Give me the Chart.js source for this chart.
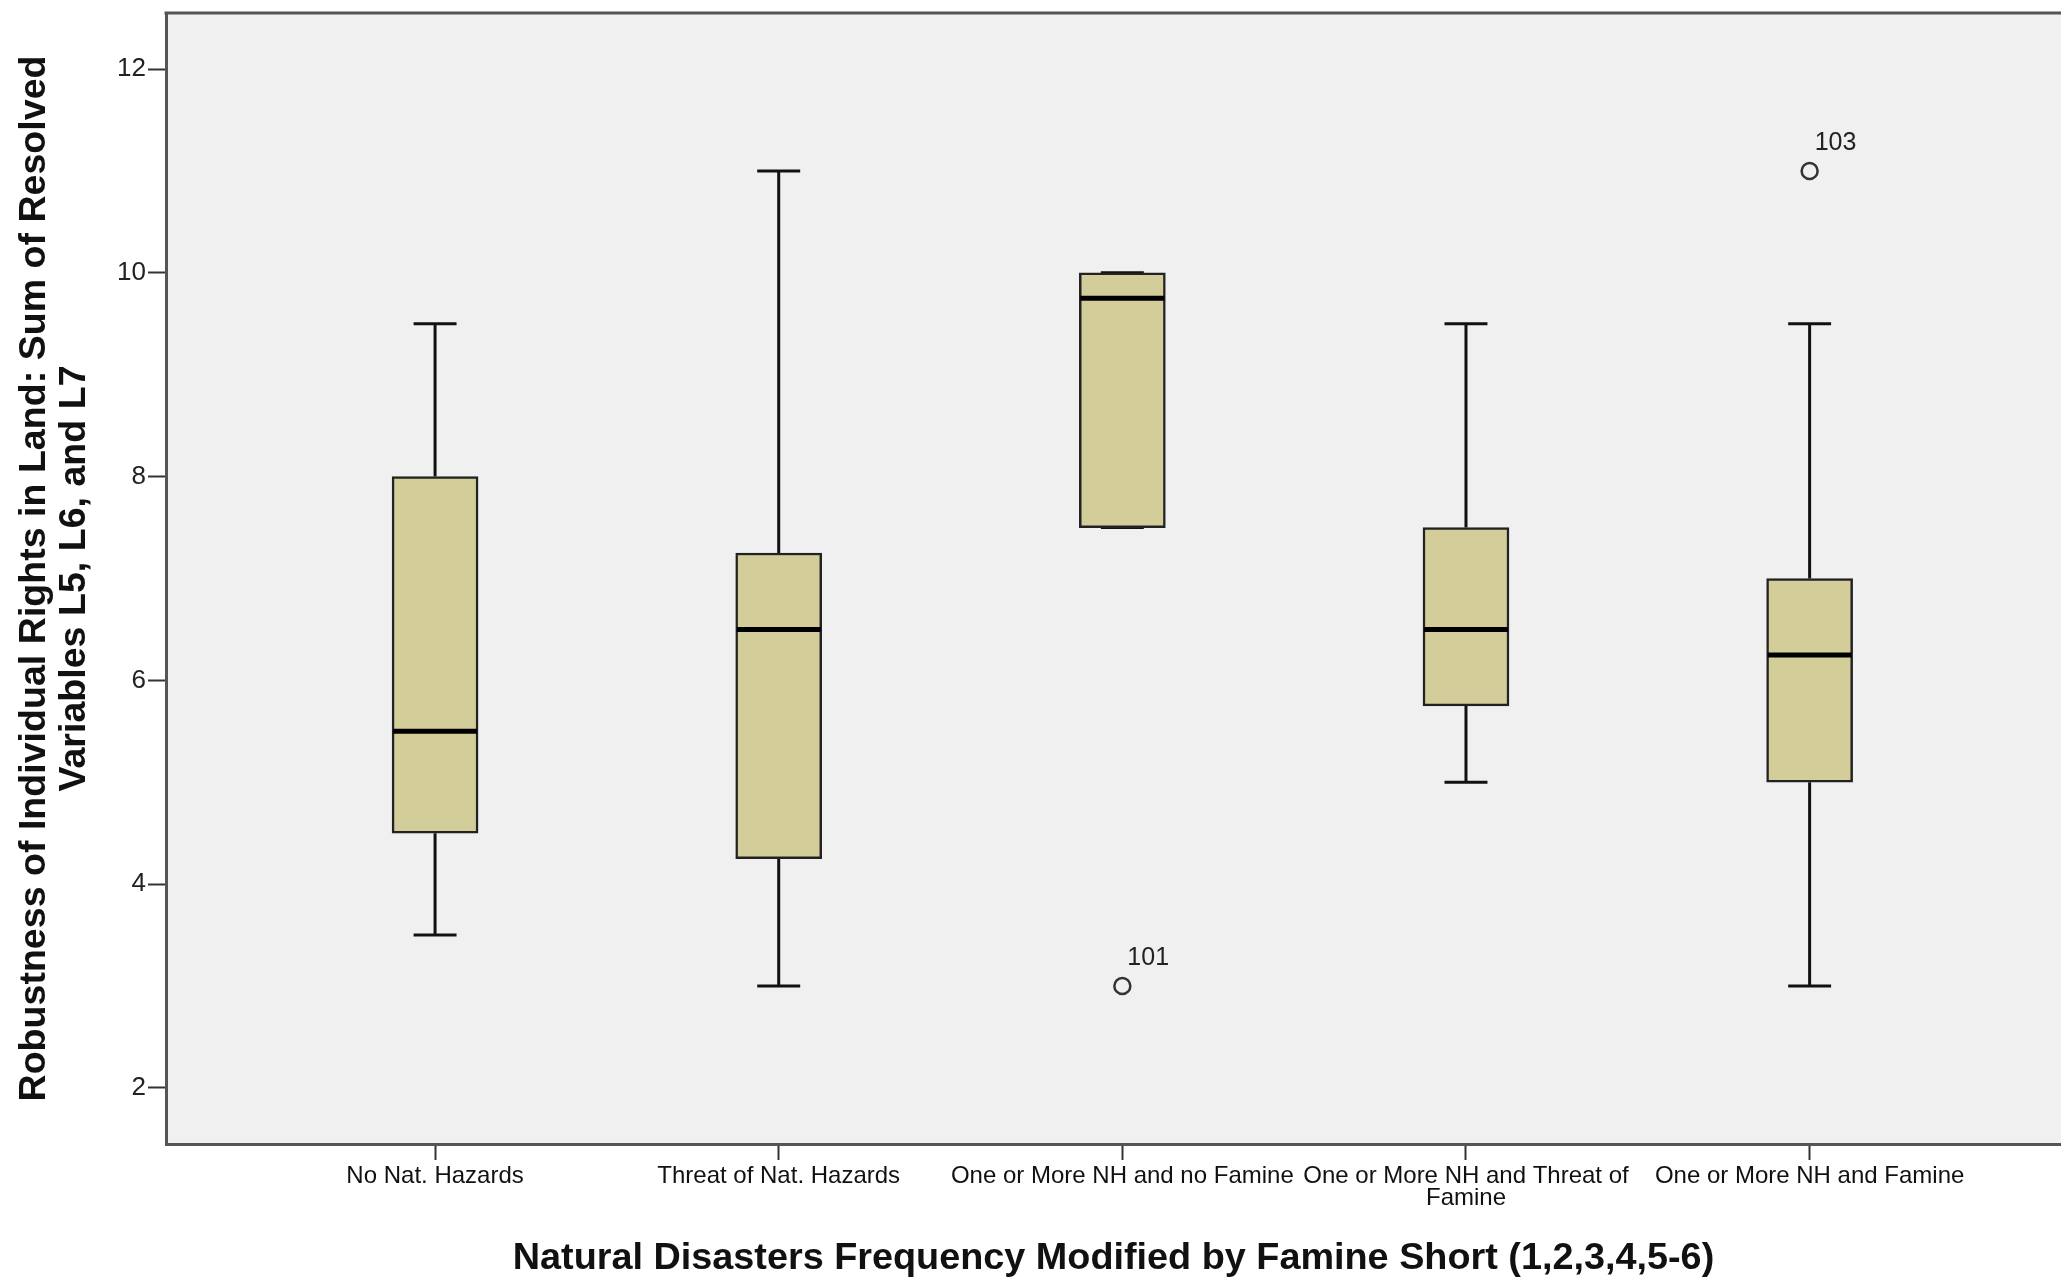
<!DOCTYPE html>
<html>
<head>
<meta charset="utf-8">
<script src="https://cdn.jsdelivr.net/npm/chart.js@4.4.1/dist/chart.umd.min.js"></script>
<style>
  html, body { margin: 0; padding: 0; background: #ffffff; overflow: hidden; }
  canvas { display: block; }
</style>
</head>
<body>
<canvas id="chart" width="2061" height="1282"></canvas>
<script>
// Groups along the x axis
const categories = [
  'No Nat. Hazards',
  'Threat of Nat. Hazards',
  'One or More NH and no Famine',
  ['One or More NH and Threat of', 'Famine'],
  'One or More NH and Famine'
];
const groupIndex = [0, 1, 2, 3, 4];

// Five-number summaries per group
const whiskerLow  = [3.5, 3,    7.5,  5,    3];
const quartile1   = [4.5, 4.25, 7.5,  5.75, 5];
const medianValue = [5.5, 6.5,  9.75, 6.5,  6.25];
const quartile3   = [8,   7.25, 10,   7.5,  7];
const whiskerHigh = [9.5, 11,   10,   9.5,  9.5];

// Outlying cases
const outlierGroup = [2, 4];
const outlierValue = [3, 11];
const outlierCase  = ['101', '103'];

const yTickValues = [2, 4, 6, 8, 10, 12];

const FONT = "'Liberation Sans', Arial, sans-serif";
const BOX_HALF = 0.125;   // half box width in group units
const CAP_HALF = 0.0625;  // half whisker-cap width in group units

const boxParts = {
  id: 'boxParts',
  beforeDraw(chart) {
    const { ctx, chartArea: a } = chart;
    ctx.save();
    ctx.fillStyle = '#F0F0F0';
    ctx.fillRect(a.left, a.top, a.right - a.left, a.bottom - a.top);
    ctx.restore();
  },
  beforeDatasetsDraw(chart) {
    const { ctx } = chart;
    const xs = chart.scales.x, ys = chart.scales.y;
    ctx.save();
    ctx.strokeStyle = '#111';
    ctx.lineWidth = 3;
    ctx.lineCap = 'butt';
    groupIndex.forEach((g, i) => {
      const x = xs.getPixelForValue(g);
      const half = xs.getPixelForValue(g + CAP_HALF) - x;
      const yLo = ys.getPixelForValue(whiskerLow[i]);
      const yHi = ys.getPixelForValue(whiskerHigh[i]);
      const yQ1 = ys.getPixelForValue(quartile1[i]);
      const yQ3 = ys.getPixelForValue(quartile3[i]);
      ctx.beginPath();
      ctx.moveTo(x, yHi); ctx.lineTo(x, yQ3);
      ctx.moveTo(x, yQ1); ctx.lineTo(x, yLo);
      ctx.moveTo(x - half, yHi); ctx.lineTo(x + half, yHi);
      ctx.moveTo(x - half, yLo); ctx.lineTo(x + half, yLo);
      ctx.stroke();
    });
    ctx.restore();
  },
  afterDatasetsDraw(chart) {
    const { ctx, chartArea: a } = chart;
    const xs = chart.scales.x, ys = chart.scales.y;
    ctx.save();
    // medians
    ctx.strokeStyle = '#000';
    ctx.lineWidth = 5;
    groupIndex.forEach((g, i) => {
      const x0 = xs.getPixelForValue(g - BOX_HALF);
      const x1 = xs.getPixelForValue(g + BOX_HALF);
      const y = ys.getPixelForValue(medianValue[i]);
      ctx.beginPath(); ctx.moveTo(x0 + 1, y); ctx.lineTo(x1 - 1, y); ctx.stroke();
    });
    // case labels beside outliers
    ctx.fillStyle = '#222';
    ctx.font = '25px ' + FONT;
    ctx.textBaseline = 'alphabetic';
    ctx.textAlign = 'left';
    outlierGroup.forEach((g, i) => {
      const x = xs.getPixelForValue(g);
      const y = ys.getPixelForValue(outlierValue[i]);
      ctx.fillText(outlierCase[i], x + 5, y - 21);
    });
    // frame top edge
    ctx.strokeStyle = '#555';
    ctx.lineWidth = 3;
    ctx.beginPath(); ctx.moveTo(a.left - 1.5, a.top); ctx.lineTo(a.right, a.top); ctx.stroke();
    ctx.restore();
  }
};

new Chart(document.getElementById('chart'), {
  type: 'bar',
  data: {
    datasets: [
      {
        type: 'bar',
        data: groupIndex.map((g, i) => ({ x: g, y: [quartile1[i], quartile3[i]] })),
        backgroundColor: '#D3CE99',
        borderColor: '#222',
        borderWidth: 2.5,
        borderSkipped: false,
        barThickness: 86
      },
      {
        type: 'scatter',
        data: outlierGroup.map((g, i) => ({ x: g, y: outlierValue[i] })),
        pointStyle: 'circle',
        pointRadius: 8,
        borderWidth: 2.5,
        borderColor: '#333',
        backgroundColor: 'rgba(0,0,0,0)'
      }
    ]
  },
  options: {
    responsive: false,
    animation: false,
    events: [],
    layout: { autoPadding: false, padding: { top: 13, left: 0, right: 0, bottom: 0 } },
    plugins: { legend: { display: false }, tooltip: { enabled: false } },
    scales: {
      x: {
        type: 'linear',
        offset: false,
        min: -0.783,
        max: 4.7315,
        afterBuildTicks(scale) { scale.ticks = groupIndex.map(v => ({ value: v })); },
        afterFit(scale) {
          scale.height = 138;
          scale.paddingLeft = 0;
          scale.paddingRight = 0;
        },
        grid: { offset: false, drawOnChartArea: false, tickLength: 16, tickColor: '#333', tickWidth: 2 },
        border: { display: true, color: '#555', width: 3 },
        ticks: {
          autoSkip: false,
          maxRotation: 0,
          minRotation: 0,
          padding: 5,
          color: '#111',
          font: { family: FONT, size: 24, lineHeight: 0.92 },
          callback: (value, index) => categories[index]
        },
        title: {
          display: true,
          text: 'Natural Disasters Frequency Modified by Famine Short (1,2,3,4,5-6)',
          color: '#111',
          font: { family: FONT, size: 37.8, weight: 'bold', lineHeight: 1.05 },
          padding: { top: 0, bottom: 4 }
        }
      },
      y: {
        type: 'linear',
        min: 1.45,
        max: 12.55,
        afterBuildTicks(scale) { scale.ticks = yTickValues.map(v => ({ value: v })); },
        afterFit(scale) {
          scale.width = 166;
          scale.paddingTop = 0;
          scale.paddingBottom = 0;
        },
        grid: { drawOnChartArea: false, tickLength: 18, tickColor: '#333', tickWidth: 2 },
        border: { display: true, color: '#555', width: 3 },
        ticks: {
          padding: 2,
          color: '#222',
          font: { family: FONT, size: 26 }
        },
        title: {
          display: true,
          text: ['Robustness of Individual Rights in Land: Sum of Resolved', 'Variables L5, L6, and L7'],
          color: '#111',
          font: { family: FONT, size: 37.6, weight: 'bold', lineHeight: 1.05 },
          padding: { top: 15, bottom: 0 }
        }
      }
    }
  },
  plugins: [boxParts]
});
</script>
</body>
</html>
